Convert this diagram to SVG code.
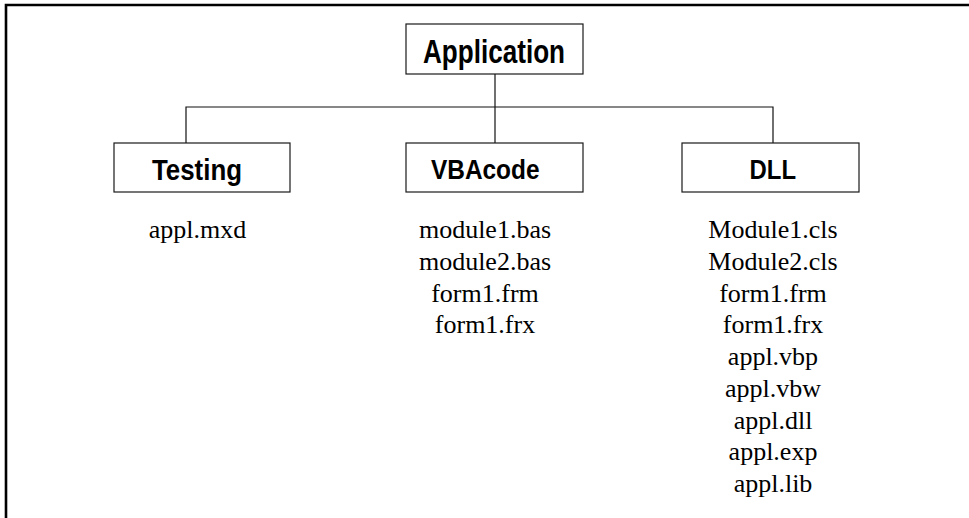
<svg xmlns="http://www.w3.org/2000/svg" width="969" height="518" viewBox="0 0 969 518">
<style>
.box{fill:#fff;stroke:#1a1a1a;stroke-width:1.2}
.lbl{font-family:"Liberation Sans",Arial,sans-serif;font-weight:bold;fill:#000}
.file{font-family:"Liberation Serif","Times New Roman",serif;font-size:26px;fill:#000;text-anchor:middle}
.conn{fill:none;stroke:#111;stroke-width:1.2}
</style>
<rect width="969" height="518" fill="#fff"/>
<path d="M6,518 V5 H969" fill="none" stroke="#000" stroke-width="2.6"/>
<g id="connectors">
<path class="conn" d="M495,74 V107" stroke="#666"/>
<path class="conn" d="M186,143 V107 H773 V143"/>
<path class="conn" d="M495,107 V143" stroke="#666"/>
</g>
<g id="application">
<rect class="box" x="406" y="24" width="177" height="50"/>
<text class="lbl" x="423" y="63.3" font-size="33" textLength="142" lengthAdjust="spacingAndGlyphs">Application</text>
</g>
<g id="testing">
<rect class="box" x="114" y="143" width="176" height="49"/>
<text class="lbl" x="152" y="180" font-size="29" textLength="90" lengthAdjust="spacingAndGlyphs">Testing</text>
<text class="file" x="197.5" y="238.3">appl.mxd</text>
</g>
<g id="vbacode">
<rect class="box" x="406" y="143" width="177" height="49"/>
<text class="lbl" x="431" y="178.5" font-size="28" textLength="108.5" lengthAdjust="spacingAndGlyphs">VBAcode</text>
<text class="file" x="485" y="238.3">module1.bas</text>
<text class="file" x="485" y="270">module2.bas</text>
<text class="file" x="485" y="301.7">form1.frm</text>
<text class="file" x="485" y="333.4">form1.frx</text>
</g>
<g id="dll">
<rect class="box" x="682" y="143" width="177" height="49"/>
<text class="lbl" x="749.5" y="179.3" font-size="27" textLength="46.5" lengthAdjust="spacingAndGlyphs">DLL</text>
<text class="file" x="773" y="238.3">Module1.cls</text>
<text class="file" x="773" y="270">Module2.cls</text>
<text class="file" x="773" y="301.7">form1.frm</text>
<text class="file" x="773" y="333.4">form1.frx</text>
<text class="file" x="773" y="365.1">appl.vbp</text>
<text class="file" x="773" y="396.8">appl.vbw</text>
<text class="file" x="773" y="428.5">appl.dll</text>
<text class="file" x="773" y="460.2">appl.exp</text>
<text class="file" x="773" y="491.9">appl.lib</text>
</g>
</svg>
